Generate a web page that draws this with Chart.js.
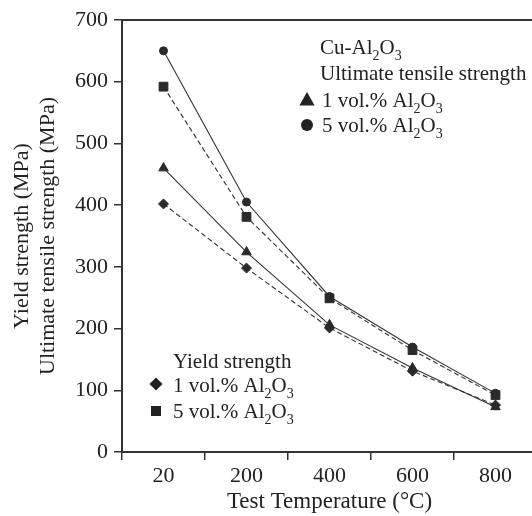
<!DOCTYPE html>
<html>
<head>
<meta charset="utf-8">
<script src="https://cdn.jsdelivr.net/npm/chart.js@4/dist/chart.umd.min.js"></script>
<style>
  html, body { margin: 0; padding: 0; background: #fff; overflow: hidden; }
  #wrap { width: 532px; height: 516px; overflow: hidden; position: relative; }
  canvas { display: block; }
</style>
</head>
<body>
<div id="wrap"><canvas id="c" width="545" height="516"></canvas></div>
<script>
// ---- data ----
const temps = ['20', '200', '400', '600', '800'];
const utsLow  = [460, 324, 206, 136, 73];   // UTS, 1 vol.% Al2O3 (triangles)
const utsHigh = [650, 405, 252, 170, 95];   // UTS, 5 vol.% Al2O3 (circles)
const ysLow   = [402, 298, 201, 131, 76];   // YS, 1 vol.% Al2O3 (diamonds)
const ysHigh  = [592, 381, 249, 165, 92];   // YS, 5 vol.% Al2O3 (squares)
const yMin = 0, yMax = 700, yStep = 100;

const FONT = "'Liberation Serif', 'Times New Roman', serif";
const INK = '#222';
const LINE = '#333';

function richText(ctx, parts, x, yCenter, size) {
  let cx = x;
  const base = yCenter + size * 0.33;
  for (const [t, sub] of parts) {
    if (sub) {
      ctx.font = Math.round(size * 0.66) + 'px ' + FONT;
      ctx.fillText(t, cx, base + size * 0.28);
    } else {
      ctx.font = size + 'px ' + FONT;
      ctx.fillText(t, cx, base);
    }
    cx += ctx.measureText(t).width;
  }
}

function marker(ctx, type, x, y, r) {
  ctx.beginPath();
  if (type === 'triangle') {
    ctx.moveTo(x, y - r);
    ctx.lineTo(x + r * 0.95, y + r * 0.7);
    ctx.lineTo(x - r * 0.95, y + r * 0.7);
    ctx.closePath();
  } else if (type === 'circle') {
    ctx.arc(x, y, r, 0, Math.PI * 2);
  } else if (type === 'diamond') {
    ctx.moveTo(x, y - r); ctx.lineTo(x + r, y); ctx.lineTo(x, y + r); ctx.lineTo(x - r, y); ctx.closePath();
  } else {
    ctx.rect(x - r, y - r, 2 * r, 2 * r);
  }
  ctx.fill();
}

const al2o3 = (prefix) => [[prefix + 'Al', false], ['2', true], ['O', false], ['3', true]];

const framePlugin = {
  id: 'frame',
  afterDraw(chart) {
    const { ctx, chartArea: a } = chart;
    ctx.save();
    ctx.strokeStyle = LINE;
    ctx.lineWidth = 2;
    ctx.beginPath();
    ctx.moveTo(a.left, a.top);
    ctx.lineTo(a.right, a.top);
    ctx.lineTo(a.right, a.bottom);
    ctx.stroke();

    ctx.fillStyle = INK;
    ctx.textAlign = 'left';
    ctx.textBaseline = 'alphabetic';
    const S = 21;
    // UTS legend (top right)
    richText(ctx, al2o3('Cu-'), 320, 47, S);
    richText(ctx, [['Ultimate tensile strength', false]], 320, 73, S);
    marker(ctx, 'triangle', 307, 100, 8);
    richText(ctx, al2o3('1 vol.% '), 322, 100, S);
    marker(ctx, 'circle', 307, 125, 6);
    richText(ctx, al2o3('5 vol.% '), 322, 125, S);
    // YS legend (bottom left)
    richText(ctx, [['Yield strength', false]], 173, 361, S);
    marker(ctx, 'diamond', 156, 384, 6.5);
    richText(ctx, al2o3('1 vol.% '), 173, 385, S);
    marker(ctx, 'rect', 156, 411, 5);
    richText(ctx, al2o3('5 vol.% '), 173, 411, S);
    ctx.restore();
  }
};

const common = { borderColor: LINE, borderWidth: 1.1, pointBackgroundColor: '#2a2a2a', pointBorderColor: '#2a2a2a', pointBorderWidth: 1, fill: false, tension: 0 };

new Chart(document.getElementById('c'), {
  type: 'line',
  data: {
    labels: temps,
    datasets: [
      Object.assign({ label: 'UTS 1 vol.%', data: utsLow, pointStyle: 'triangle', pointRadius: 5.5 }, common),
      Object.assign({ label: 'YS 5 vol.%', data: ysHigh, pointStyle: 'rect', pointRadius: 6.2, borderDash: [5, 3] }, common),
      Object.assign({ label: 'UTS 5 vol.%', data: utsHigh, pointStyle: 'circle', pointRadius: 4 }, common),
      Object.assign({ label: 'YS 1 vol.%', data: ysLow, pointStyle: 'rectRot', pointRadius: 5, borderDash: [5, 3] }, common)
    ]
  },
  options: {
    responsive: false,
    animation: false,
    devicePixelRatio: 1,
    layout: { padding: { top: 20, right: 8, left: 0, bottom: 0 } },
    plugins: { legend: { display: false }, tooltip: { enabled: false } },
    scales: {
      x: {
        type: 'category',
        offset: true,
        grid: { offset: true, drawOnChartArea: false, tickLength: 8, color: LINE, lineWidth: 1.5 },
        border: { color: LINE, width: 2 },
        ticks: { font: { family: FONT, size: 22 }, color: INK, padding: 3 },
        title: { display: true, text: 'Test Temperature (°C)', font: { family: FONT, size: 23 }, color: INK, padding: { top: 0, bottom: 0 } },
        afterFit(s) { s.height = 64; }
      },
      y: {
        min: yMin, max: yMax,
        grid: { drawOnChartArea: false, tickLength: 8, color: LINE, lineWidth: 1.5 },
        border: { color: LINE, width: 2 },
        ticks: { stepSize: yStep, font: { family: FONT, size: 22 }, color: INK, padding: 6 },
        title: { display: true, text: ['Yield strength (MPa)', 'Ultimate tensile strength (MPa)'], font: { family: FONT, size: 22 }, color: INK, padding: { top: 9, bottom: 0 } },
        afterFit(s) { s.width = 122; }
      }
    }
  },
  plugins: [framePlugin]
});
</script>
</body>
</html>
